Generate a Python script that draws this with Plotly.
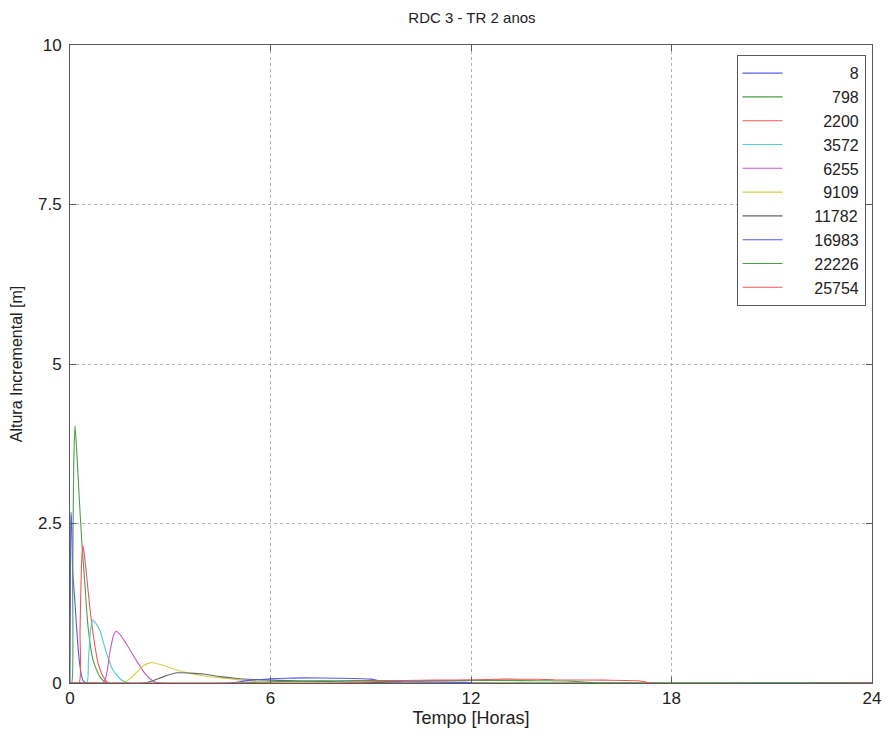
import plotly.graph_objects as go

series_names = ["8", "798", "2200", "3572", "6255", "9109", "11782", "16983", "22226", "25754"]
colors = ["#5a5ae6", "#4aa04a", "#f05858", "#52cccc", "#c858c8", "#d2d246", "#666666", "#5a5ae6", "#4aa04a", "#f05858"]

t_8 = [0, 0.01, 0.02, 0.03, 0.05, 0.07, 0.08, 0.1, 0.15, 0.2, 0.25, 0.3, 0.35, 0.4, 0.5, 24]
v_8 = [0, 1.2, 2.4, 2.68, 2.5, 2.0, 1.75, 1.6, 1.25, 0.85, 0.5, 0.26, 0.1, 0.03, 0, 0]

t_798 = [0, 0.05, 0.08, 0.11, 0.15, 0.2, 0.28, 0.35, 0.45, 0.54, 0.69, 0.89, 1.1, 24]
v_798 = [0, 0, 1.6, 3.4, 4.03, 3.65, 2.87, 2.24, 1.51, 0.88, 0.36, 0.1, 0, 0]

t_2200 = [0, 0.27, 0.3, 0.34, 0.38, 0.42, 0.49, 0.59, 0.69, 0.84, 0.99, 1.15, 24]
v_2200 = [0, 0, 0.8, 1.8, 2.16, 2.05, 1.72, 1.2, 0.78, 0.31, 0.1, 0, 0]

t_3572 = [0, 0.5, 0.55, 0.62, 0.69, 0.78, 0.89, 1.09, 1.29, 1.53, 1.75, 24]
v_3572 = [0, 0, 0.35, 0.85, 0.99, 0.93, 0.83, 0.47, 0.2, 0.05, 0, 0]

t_6255 = [0, 1.0, 1.1, 1.19, 1.3, 1.38, 1.5, 1.68, 1.98, 2.27, 2.52, 2.75, 24]
v_6255 = [0, 0, 0.15, 0.47, 0.74, 0.81, 0.76, 0.62, 0.36, 0.13, 0.02, 0, 0]

t_9109 = [0, 1.6, 1.8, 2.0, 2.2, 2.42, 2.7, 3.0, 3.5, 4.0, 4.7, 5.3, 5.8, 6.2, 24]
v_9109 = [0, 0, 0.07, 0.17, 0.27, 0.32, 0.29, 0.24, 0.16, 0.11, 0.07, 0.035, 0.01, 0, 0]

t_11782 = [0, 2.2, 2.5, 2.8, 3.2, 3.6, 4.0, 4.5, 5.0, 5.5, 6.0, 7.0, 8.0, 9.0, 10.0, 24]
v_11782 = [0, 0, 0.04, 0.1, 0.16, 0.155, 0.14, 0.1, 0.07, 0.055, 0.045, 0.03, 0.02, 0.01, 0, 0]

t_16983 = [0, 4.8, 5.2, 5.6, 6.0, 6.5, 7.0, 8.0, 9.0, 9.3, 10.0, 11.0, 11.9, 12.0, 24]
v_16983 = [0, 0, 0.03, 0.05, 0.065, 0.075, 0.08, 0.075, 0.06, 0.03, 0.02, 0.015, 0.01, 0, 0]

t_22226 = [0, 5.0, 6.0, 7.0, 8.0, 9.0, 10.0, 12.0, 13.0, 14.0, 15.0, 15.5, 16.0, 24]
v_22226 = [0, 0, 0.02, 0.03, 0.035, 0.04, 0.035, 0.04, 0.04, 0.035, 0.03, 0.01, 0, 0]

t_25754 = [0, 8.0, 9.0, 10.0, 11.0, 12.0, 13.0, 14.0, 14.5, 16.0, 17.0, 17.4, 24]
v_25754 = [0, 0, 0.02, 0.04, 0.045, 0.05, 0.06, 0.058, 0.05, 0.045, 0.035, 0, 0]

times = [t_8, t_798, t_2200, t_3572, t_6255, t_9109, t_11782, t_16983, t_22226, t_25754]
values = [v_8, v_798, v_2200, v_3572, v_6255, v_9109, v_11782, v_16983, v_22226, v_25754]

x_ticks = [0, 6, 12, 18, 24]
y_ticks = [0, 2.5, 5, 7.5, 10]
y_tick_labels = ["0", "2.5", "5", "7.5", "10"]

NBSP = "\u00a0"
maxlen = max(len(n) for n in series_names)

fig = go.Figure()
for name, c, t, v in zip(series_names, colors, times, values):
    label = NBSP * (2 * (maxlen - len(name)) + 6) + name
    fig.add_trace(go.Scatter(x=t, y=v, mode="lines", name=label,
                             line=dict(color=c, width=1.1, shape="spline", smoothing=0.6)))

axis_common = dict(showline=True, linecolor="#5a5a5a", linewidth=1, mirror="ticks",
                   ticks="inside", ticklen=6, tickcolor="#5a5a5a",
                   showgrid=True, gridcolor="#b4b4b4", griddash="dot", gridwidth=1,
                   zeroline=False, automargin=False, ticklabeloverflow="allow",
                   tickfont=dict(size=17, color="#222222"))

fig.update_layout(
    width=882, height=720,
    margin=dict(l=62, r=18, t=37, b=45, autoexpand=False),
    paper_bgcolor="white", plot_bgcolor="white",
    font=dict(family="Liberation Sans, Arial, sans-serif", color="#222222"),
    title=dict(text="RDC 3 - TR 2 anos", x=0.526, xanchor="center", y=0.986, yanchor="middle",
               font=dict(size=15, color="#222222")),
    xaxis=dict(range=[0, 24], tickvals=x_ticks,
               title=dict(text="Tempo [Horas]", font=dict(size=18), standoff=2), **axis_common),
    yaxis=dict(range=[0, 10], tickvals=y_ticks, ticktext=y_tick_labels, ticklabelstandoff=4,
               title=dict(text="Altura Incremental [m]", font=dict(size=16), standoff=12), **axis_common),
    legend=dict(x=0.992, y=0.984, xanchor="right", yanchor="top",
                bordercolor="#5a5a5a", borderwidth=1, bgcolor="white",
                font=dict(size=16, color="#222222"), tracegroupgap=0,
                itemwidth=40),
    showlegend=True,
)

fig.write_html("out.html")
